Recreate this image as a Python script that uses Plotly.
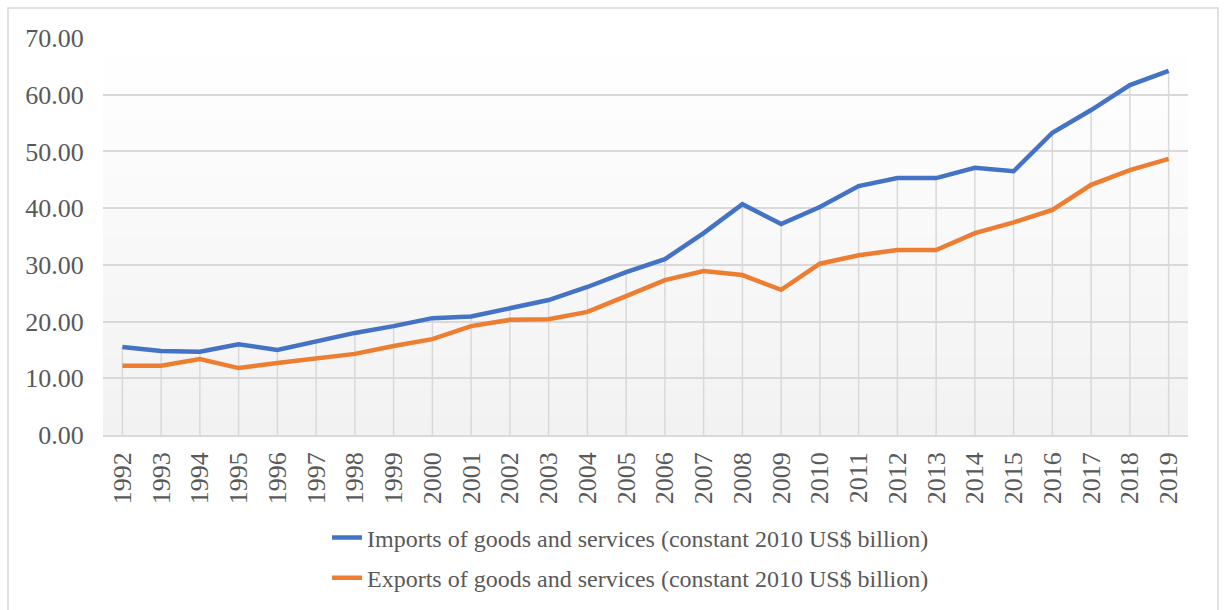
import plotly.graph_objects as go

years = list(range(1992, 2020))
imports = [15.5, 14.8, 14.7, 16.0, 15.0, 16.5, 18.0, 19.2, 20.6, 20.9, 22.3, 23.8,
           26.1, 28.7, 31.0, 35.6, 40.7, 37.2, 40.2, 43.9, 45.3, 45.3, 47.1, 46.5,
           53.3, 57.3, 61.7, 64.2]
exports = [12.2, 12.2, 13.4, 11.8, 12.7, 13.6, 14.3, 15.7, 16.9, 19.2, 20.3, 20.4,
           21.7, 24.5, 27.3, 28.9, 28.2, 25.6, 30.2, 31.7, 32.6, 32.6, 35.6, 37.5,
           39.7, 44.1, 46.7, 48.7]
y_ticks = [0, 10, 20, 30, 40, 50, 60, 70]
y_tick_text = ["0.00", "10.00", "20.00", "30.00", "40.00", "50.00", "60.00", "70.00"]
names = ["Imports of goods and services (constant 2010 US$ billion)",
         "Exports of goods and services (constant 2010 US$ billion)"]

FONT = "Liberation Serif, Times New Roman, serif"
TXT = "#595959"
GRID = "#d9d9d9"

# drop lines from the highest series down to the axis
dx, dy = [], []
for x, a, b in zip(years, imports, exports):
    dx += [x, x, None]
    dy += [max(a, b), 0, None]

fig = go.Figure()
fig.add_trace(go.Scatter(x=dx, y=dy, mode="lines", line=dict(color=GRID, width=1.5),
                         hoverinfo="skip", showlegend=False))
fig.add_trace(go.Scatter(x=years, y=imports, mode="lines", name=names[0], legendgroup="a",
                         line=dict(color="#4472C4", width=4.5)))
fig.add_trace(go.Scatter(x=years, y=exports, mode="lines", name=names[1], legendgroup="b",
                         line=dict(color="#ED7D31", width=4.5)))

# vertical gradient background of the plot area
shapes = []
n = 40
for i in range(n):
    t = (i + 0.5) / n  # 0 bottom -> 1 top
    c = int(round(242 + (255 - 242) * t))
    shapes.append(dict(type="rect", xref="x domain", yref="y domain",
                       x0=0, x1=1, y0=i / n, y1=(i + 1) / n,
                       fillcolor=f"rgb({c},{c},{c})", line=dict(width=0), layer="below"))
# outer chart border
shapes.append(dict(type="rect", xref="paper", yref="paper",
                   x0=(8 - 103) / 1085, x1=(1218 - 103) / 1085,
                   y0=-0.47, y1=(435 - 8) / 397,
                   line=dict(color=GRID, width=1.5), fillcolor="rgba(0,0,0,0)", layer="below"))

fig.update_layout(
    width=1224, height=610,
    margin=dict(l=103, r=36, t=38, b=175, autoexpand=False),
    paper_bgcolor="white", plot_bgcolor="rgba(0,0,0,0)",
    font=dict(family=FONT, size=24, color=TXT),
    shapes=shapes,
    showlegend=True,
    legend=dict(orientation="v", x=(327 - 103) / 1085, xanchor="left", y=-0.2025, yanchor="top",
                traceorder="grouped", tracegroupgap=6,
                font=dict(family=FONT, size=24, color=TXT), bgcolor="rgba(0,0,0,0)"),
    xaxis=dict(range=[1991.5, 2019.5], tickmode="array", tickvals=years,
               ticktext=[str(y) for y in years], tickangle=-90,
               showgrid=False, zeroline=False, showline=True, linecolor=GRID, linewidth=1.5,
               ticks="outside", ticklen=5, tickcolor="rgba(0,0,0,0)",
               tickfont=dict(family=FONT, size=26, color=TXT), fixedrange=True),
    yaxis=dict(range=[0, 70], tickmode="array", tickvals=y_ticks, ticktext=y_tick_text,
               showgrid=True, gridcolor=GRID, gridwidth=1.5, zeroline=False, showline=False,
               ticks="outside", ticklen=13, tickcolor="rgba(0,0,0,0)",
               tickfont=dict(family=FONT, size=26, color=TXT), fixedrange=True),
)

fig.write_html("out.html")
